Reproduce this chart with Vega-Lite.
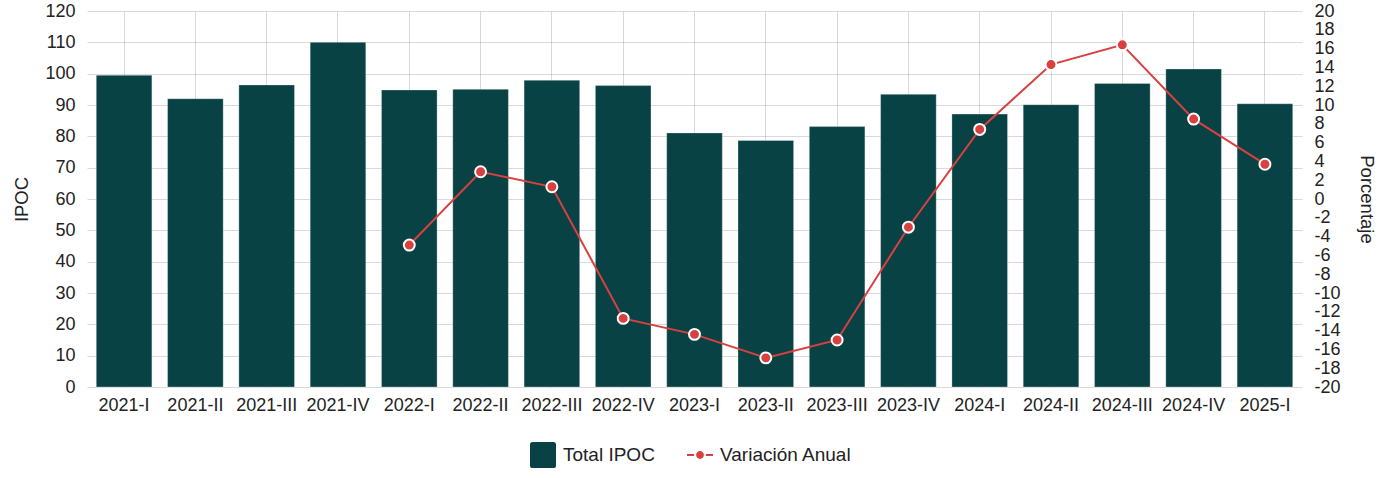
{
  "$schema": "https://vega.github.io/schema/vega-lite/v6.json",
  "autosize": {"type": "none"},
  "padding": {"left": 87, "top": 11, "right": 82, "bottom": 91},
  "width": 1215,
  "height": 376,
  "background": "white",
  "config": {
    "font": "Liberation Sans",
    "view": {"stroke": null},
    "axis": {"labelFont": "Liberation Sans", "titleFont": "Liberation Sans", "labelColor": "#222", "titleColor": "#222", "labelFontSize": 18, "titleFontSize": 18.5, "titleFontWeight": "normal", "gridColor": "#000", "gridOpacity": 0.15, "ticks": false, "domain": false},
    "legend": {"labelFont": "Liberation Sans", "labelFontSize": 19, "labelColor": "#222", "labelOffset": 7, "padding": 0, "symbolSize": 676, "symbolStrokeWidth": 0, "orient": "none", "direction": "horizontal", "title": null}
  },
  "data": {"values": [
    {"q": "2021-I", "ipoc": 99.5, "var": null},
    {"q": "2021-II", "ipoc": 92.0, "var": null},
    {"q": "2021-III", "ipoc": 96.4, "var": null},
    {"q": "2021-IV", "ipoc": 110.0, "var": null},
    {"q": "2022-I", "ipoc": 94.8, "var": -4.9},
    {"q": "2022-II", "ipoc": 95.0, "var": 2.9},
    {"q": "2022-III", "ipoc": 97.9, "var": 1.3},
    {"q": "2022-IV", "ipoc": 96.2, "var": -12.7},
    {"q": "2023-I", "ipoc": 81.1, "var": -14.4},
    {"q": "2023-II", "ipoc": 78.7, "var": -16.9},
    {"q": "2023-III", "ipoc": 83.1, "var": -15.0},
    {"q": "2023-IV", "ipoc": 93.4, "var": -3.0},
    {"q": "2024-I", "ipoc": 87.1, "var": 7.4},
    {"q": "2024-II", "ipoc": 90.1, "var": 14.3},
    {"q": "2024-III", "ipoc": 96.9, "var": 16.4},
    {"q": "2024-IV", "ipoc": 101.5, "var": 8.5},
    {"q": "2025-I", "ipoc": 90.4, "var": 3.7}
  ]},
  "encoding": {
    "x": {"field": "q", "type": "nominal", "sort": null, "title": null,
      "scale": {"paddingInner": 0.22, "paddingOuter": 0.13},
      "axis": {"labelAngle": 0, "labelPadding": 9, "grid": true, "bandPosition": 0.5}}
  },
  "layer": [
    {
      "mark": {"type": "bar", "stroke": "#ffffff", "strokeWidth": 0.5, "strokeOpacity": 0.6},
      "encoding": {
        "y": {"field": "ipoc", "type": "quantitative", "title": "IPOC",
          "scale": {"domain": [0, 120], "nice": false, "zero": true},
          "axis": {"orient": "left", "values": [0,10,20,30,40,50,60,70,80,90,100,110,120], "labelPadding": 12, "titlePadding": 13, "labelOverlap": false}},
        "color": {"datum": "Total IPOC", "type": "nominal",
          "scale": {"domain": ["Total IPOC"], "range": ["#084244"]},
          "legend": {"legendX": 443, "legendY": 431,
            "symbolType": "M-1,-0.8Q-1,-1,-0.8,-1L0.8,-1Q1,-1,1,-0.8L1,0.8Q1,1,0.8,1L-0.8,1Q-1,1,-1,0.8Z",
            "symbolFillColor": "#084244", "symbolOpacity": 1}}
      }
    },
    {
      "encoding": {
        "y": {"field": "var", "type": "quantitative", "title": "Porcentaje",
          "scale": {"domain": [-20, 20], "nice": false, "zero": false},
          "axis": {"orient": "right", "values": [-20,-18,-16,-14,-12,-10,-8,-6,-4,-2,0,2,4,6,8,10,12,14,16,18,20], "labelExpr": "toString(datum.value)", "labelPadding": 12, "titlePadding": 16, "labelOverlap": false}}
      },
      "layer": [
        {
          "mark": {"type": "rule", "color": "#000", "opacity": 0.3, "strokeWidth": 1},
          "encoding": {"y": {"datum": 0}}
        },
        {
          "mark": {"type": "line", "strokeWidth": 2, "color": "#d94040"},
          "encoding": {}
        },
        {
          "mark": {"type": "point", "filled": true, "size": 120, "color": "#d94040", "stroke": "#ffffff", "strokeWidth": 2, "strokeOpacity": 1},
          "encoding": {
            "opacity": {"datum": "Variación Anual", "type": "nominal",
              "scale": {"domain": ["Variación Anual"], "range": [1]},
              "legend": {"legendX": 600, "legendY": 431,
                "symbolType": "M-1,-0.08L-0.45,-0.08L-0.45,0.08L-1,0.08ZM0.45,-0.08L1,-0.08L1,0.08L0.45,0.08ZM-0.3,0A0.3,0.3,0,1,0,0.3,0A0.3,0.3,0,1,0,-0.3,0Z",
                "symbolFillColor": "#d94040", "symbolStrokeColor": "#d94040", "symbolStrokeWidth": 0}}
          }
        }
      ]
    }
  ],
  "resolve": {"scale": {"y": "independent"}}
}
